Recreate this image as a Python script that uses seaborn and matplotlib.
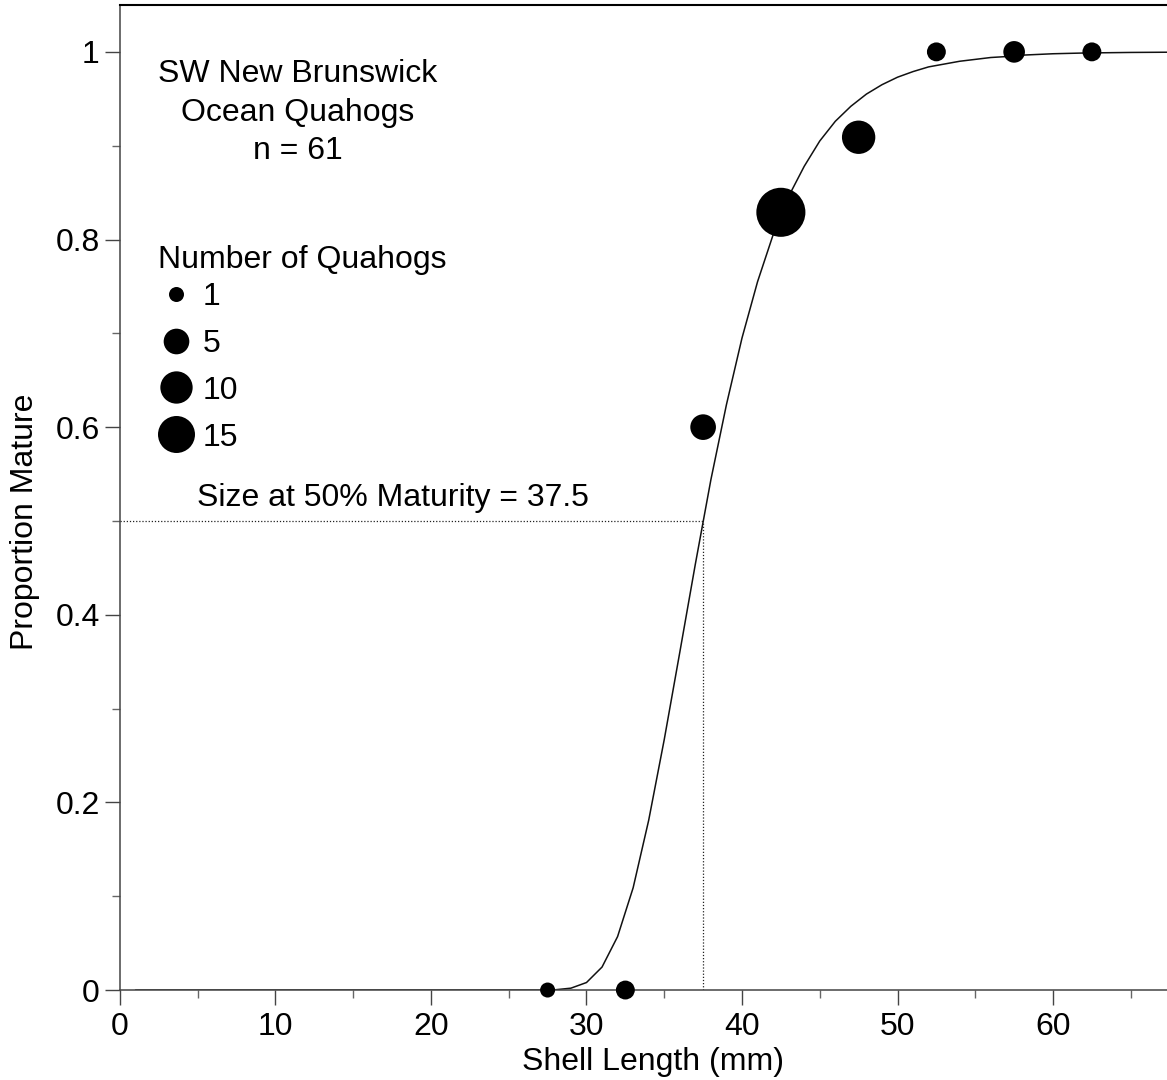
import numpy as np
import pandas as pd
import matplotlib
matplotlib.use("Agg")
import matplotlib.pyplot as plt
from matplotlib.lines import Line2D
from matplotlib.ticker import MultipleLocator
import seaborn as sns

# binned observations (5 mm bins)
length_mid = [27.5, 32.5, 37.5, 42.5, 47.5, 52.5, 57.5, 62.5]
prop_mature = [0.0, 0.0, 0.6, 0.829, 0.909, 1.0, 1.0, 1.0]
n_quahogs = [1, 2, 5, 35, 11, 2, 3, 2]

# fitted maturity curve
curve_len = [1, 26, 27, 28, 29, 30, 31, 32, 33, 34, 35, 36, 37, 38, 39, 40,
             41, 42, 43, 44, 45, 46, 47, 48, 49, 50, 51, 52, 53, 54, 55, 56,
             57, 58, 60, 62, 65, 68]
curve_prop = [0.0, 0.0, 0.0, 0.0003, 0.002, 0.008, 0.0245, 0.057, 0.109,
              0.181, 0.267, 0.360, 0.454, 0.544, 0.624, 0.695, 0.755, 0.805,
              0.846, 0.878, 0.905, 0.926, 0.942, 0.955, 0.965, 0.973, 0.979,
              0.984, 0.987, 0.990, 0.992, 0.994, 0.995, 0.9965, 0.998, 0.9988,
              0.9994, 0.9997]

L50 = 37.5
legend_counts = [1, 5, 10, 15]

FS = 23
sns.set_theme(style="ticks")
plt.rcParams["font.family"] = ["Liberation Sans", "DejaVu Sans"]
plt.rcParams["text.color"] = "black"
plt.rcParams["axes.labelcolor"] = "black"
plt.rcParams["xtick.color"] = "black"
plt.rcParams["ytick.color"] = "black"


def diam_pt(n):
    # marker diameter grows with cube root of count
    return 10.8 * n ** (1 / 3)


obs = pd.DataFrame({"length": length_mid, "prop": prop_mature, "n": n_quahogs})
size_map = {n: diam_pt(n) ** 2 for n in obs.n.unique()}

fig = plt.figure(figsize=(11.67, 10.8), dpi=100)
ax = fig.add_axes([0.1028, 0.0833, 0.8972, 0.9121])

sns.lineplot(x=curve_len, y=curve_prop, color="#111111", lw=1.1,
             estimator=None, sort=False, ax=ax, zorder=2)
sns.scatterplot(data=obs, x="length", y="prop", size="n", sizes=size_map,
                color="black", linewidth=0, legend=False, ax=ax,
                clip_on=False, zorder=3)

ax.hlines(0.5, 0, L50, colors="#222222", linestyles=(0, (1, 1.5)), lw=0.9)
ax.vlines(L50, 0, 0.5, colors="#222222", linestyles=(0, (1, 1.5)), lw=0.9)
ax.text(4.95, 0.508, f"Size at 50% Maturity = {L50}", fontsize=FS,
        ha="left", va="bottom")

ax.text(11.45, 0.992, "SW New Brunswick\nOcean Quahogs\nn = 61", fontsize=FS,
        ha="center", va="top", multialignment="center", linespacing=1.36)

ax.text(2.45, 0.778, "Number of Quahogs", fontsize=FS, ha="left", va="center")
handles = [Line2D([], [], marker="o", ls="", color="black",
                  markersize=diam_pt(c), markeredgewidth=0) for c in legend_counts]
leg = ax.legend(handles, [str(c) for c in legend_counts],
                loc="upper left", bbox_to_anchor=(0.036, 0.719), frameon=False,
                fontsize=FS, handlelength=1.13, handletextpad=0.28,
                labelspacing=0.53, borderpad=0, borderaxespad=0)

ax.set_xlim(0, 67.33)
ax.set_ylim(0, 1.05)
ax.set_xticks([0, 10, 20, 30, 40, 50, 60])
ax.set_yticks([0, 0.2, 0.4, 0.6, 0.8, 1.0])
ax.set_yticklabels(["0", "0.2", "0.4", "0.6", "0.8", "1"])
ax.xaxis.set_minor_locator(MultipleLocator(5))
ax.yaxis.set_minor_locator(MultipleLocator(0.1))
ax.tick_params(which="major", length=10.5, width=1.0, color="#444444",
               labelsize=FS, pad=4)
ax.tick_params(which="minor", length=6, width=1.0, color="#666666")
ax.tick_params(axis="x", which="major", pad=5)

ax.spines["right"].set_visible(False)
ax.spines["top"].set_color("black")
ax.spines["top"].set_linewidth(1.5)
for s in ["left", "bottom"]:
    ax.spines[s].set_color("#444444")
    ax.spines[s].set_linewidth(1.1)

ax.set_xlabel("Shell Length (mm)", fontsize=FS)
ax.set_ylabel("Proportion Mature", fontsize=FS)
ax.xaxis.set_label_coords(0.509, -0.058)
ax.yaxis.set_label_coords(-0.0764, 0.475)

fig.savefig("out.png", dpi=100)
